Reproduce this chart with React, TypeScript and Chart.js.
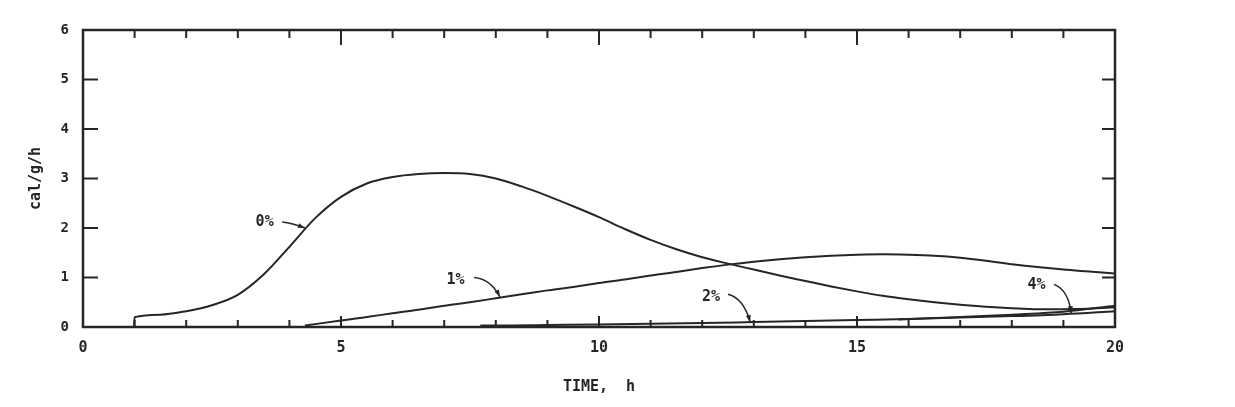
import React, { useEffect, useRef } from "react";
import { Chart, registerables } from "chart.js";

Chart.register(...registerables);

// ---- data ----
const time0 = [0.99, 1, 1.5, 2, 2.5, 3, 3.5, 4, 4.5, 5, 5.5, 6, 6.5, 7, 7.5, 8, 8.5, 9, 9.5, 10, 10.5, 11, 11.5, 12, 12.5, 13, 13.5, 14, 14.5, 15, 15.5, 16, 16.5, 17, 17.5, 18, 18.5, 19, 19.5, 20];
const heat0 = [0, 0.2, 0.25, 0.32, 0.44, 0.65, 1.06, 1.62, 2.2, 2.63, 2.9, 3.03, 3.09, 3.11, 3.09, 3.0, 2.84, 2.65, 2.44, 2.22, 1.98, 1.76, 1.57, 1.41, 1.28, 1.16, 1.04, 0.93, 0.82, 0.72, 0.63, 0.56, 0.5, 0.45, 0.41, 0.38, 0.36, 0.36, 0.37, 0.4];

const time1 = [4.3, 5, 5.5, 6, 6.5, 7, 7.5, 8, 8.5, 9, 9.5, 10, 10.5, 11, 11.5, 12, 12.5, 13, 13.5, 14, 14.5, 15, 15.5, 16, 16.5, 17, 17.5, 18, 18.5, 19, 19.5, 20];
const heat1 = [0.03, 0.13, 0.2, 0.28, 0.35, 0.43, 0.5, 0.58, 0.66, 0.74, 0.81, 0.89, 0.96, 1.04, 1.11, 1.19, 1.26, 1.32, 1.37, 1.41, 1.44, 1.46, 1.47, 1.46, 1.44, 1.4, 1.34, 1.27, 1.21, 1.16, 1.12, 1.08];

const time2 = [7.7, 8.1, 9, 10, 11, 12, 13, 14, 15, 16, 17, 18, 19, 20];
const heat2 = [0.03, 0.03, 0.04, 0.05, 0.065, 0.08, 0.1, 0.12, 0.14, 0.16, 0.19, 0.22, 0.26, 0.32];

const time4 = [15.8, 16.5, 17, 18, 19, 20];
const heat4 = [0.15, 0.18, 0.2, 0.25, 0.31, 0.43];

const xTickValues = [0, 5, 10, 15, 20];
const yTickValues = [0, 1, 2, 3, 4, 5, 6];

const seriesLabels = ["0%", "1%", "2%", "4%"];
// label text centre, arrow start, arrow control, arrow tip (data units)
const labelTextX = [3.52, 7.22, 12.17, 18.48];
const labelTextY = [2.12, 0.95, 0.61, 0.85];
const arrowStartX = [3.86, 7.58, 12.5, 18.82];
const arrowStartY = [2.12, 1.0, 0.66, 0.86];
const arrowCtrlX = [4.05, 7.9, 12.8, 19.1];
const arrowCtrlY = [2.1, 0.97, 0.58, 0.74];
const arrowTipX = [4.3, 8.08, 12.93, 19.15];
const arrowTipY = [2.0, 0.61, 0.1, 0.28];

const INK = "#262626";
const FONT = "'DejaVu Sans Mono', 'Liberation Mono', monospace";

const pts = (xs: number[], ys: number[]) => xs.map((x, i) => ({ x, y: ys[i] }));

const framePlugin = {
  id: "framePlugin",
  afterDraw(chart: any) {
    const { ctx, chartArea } = chart;
    const xs = chart.scales.x;
    const ys = chart.scales.y;
    const { left, right, top, bottom } = chartArea;
    ctx.save();
    ctx.strokeStyle = INK;
    ctx.lineWidth = 2.5;
    ctx.strokeRect(left, top, right - left, bottom - top);
    ctx.lineWidth = 2;
    // x ticks (inward, top and bottom)
    for (let v = 1; v < 20; v++) {
      const px = xs.getPixelForValue(v);
      const major = v % 5 === 0;
      ctx.beginPath();
      ctx.moveTo(px, bottom);
      ctx.lineTo(px, bottom - (major ? 11 : 7));
      ctx.moveTo(px, top);
      ctx.lineTo(px, top + (major ? 15 : 8));
      ctx.stroke();
    }
    // y ticks (inward, left and right)
    for (let v = 1; v < 6; v++) {
      const py = ys.getPixelForValue(v);
      ctx.beginPath();
      ctx.moveTo(left, py);
      ctx.lineTo(left + 15, py);
      ctx.moveTo(right, py);
      ctx.lineTo(right - 13, py);
      ctx.stroke();
    }
    // series labels with curved arrows
    ctx.fillStyle = INK;
    ctx.font = "bold 15px " + FONT;
    ctx.textAlign = "center";
    ctx.textBaseline = "middle";
    seriesLabels.forEach((t, i) => {
      ctx.fillText(t, xs.getPixelForValue(labelTextX[i]), ys.getPixelForValue(labelTextY[i]));
      const sx = xs.getPixelForValue(arrowStartX[i]);
      const sy = ys.getPixelForValue(arrowStartY[i]);
      const cx = xs.getPixelForValue(arrowCtrlX[i]);
      const cy = ys.getPixelForValue(arrowCtrlY[i]);
      const tx = xs.getPixelForValue(arrowTipX[i]);
      const ty = ys.getPixelForValue(arrowTipY[i]);
      ctx.lineWidth = 1.5;
      ctx.beginPath();
      ctx.moveTo(sx, sy);
      ctx.quadraticCurveTo(cx, cy, tx, ty);
      ctx.stroke();
      const ang = Math.atan2(ty - cy, tx - cx);
      const len = 7;
      const w = 2.5;
      ctx.beginPath();
      ctx.moveTo(tx, ty);
      ctx.lineTo(tx - len * Math.cos(ang) + w * Math.sin(ang), ty - len * Math.sin(ang) - w * Math.cos(ang));
      ctx.lineTo(tx - len * Math.cos(ang) - w * Math.sin(ang), ty - len * Math.sin(ang) + w * Math.cos(ang));
      ctx.closePath();
      ctx.fill();
    });
    ctx.restore();
  },
};

export default function App() {
  const ref = useRef<HTMLCanvasElement | null>(null);
  useEffect(() => {
    if (!ref.current) return;
    const line = (data: any) => ({
      data,
      borderColor: INK,
      borderWidth: 2,
      pointRadius: 0,
      cubicInterpolationMode: "monotone",
      fill: false,
    });
    const chart = new Chart(ref.current, {
      type: "line",
      data: {
        datasets: [
          { label: seriesLabels[0], ...line(pts(time0, heat0)) },
          { label: seriesLabels[1], ...line(pts(time1, heat1)) },
          { label: seriesLabels[2], ...line(pts(time2, heat2)) },
          { label: seriesLabels[3], ...line(pts(time4, heat4)) },
        ],
      },
      options: {
        animation: false,
        responsive: false,
        devicePixelRatio: 1,
        layout: { padding: { left: 23, right: 120, top: 30, bottom: 8 } },
        plugins: { legend: { display: false }, tooltip: { enabled: false } },
        scales: {
          x: {
            type: "linear",
            min: 0,
            max: 20,
            afterBuildTicks: (s: any) => {
              s.ticks = xTickValues.map((v) => ({ value: v }));
            },
            afterFit: (s: any) => {
              s.height = 72;
            },
            grid: { display: false, drawTicks: false },
            border: { display: false },
            ticks: { color: INK, padding: 12, font: { family: FONT, size: 15, weight: "bold" }, maxRotation: 0 },
            title: {
              display: true,
              text: "TIME,  h",
              color: INK,
              font: { family: FONT, size: 15, weight: "bold" },
              padding: { top: 4, bottom: 3 },
            },
          },
          y: {
            type: "linear",
            min: 0,
            max: 6,
            afterBuildTicks: (s: any) => {
              s.ticks = yTickValues.map((v) => ({ value: v }));
            },
            afterFit: (s: any) => {
              s.width = 60;
            },
            grid: { display: false, drawTicks: false },
            border: { display: false },
            ticks: { color: INK, padding: 14, font: { family: FONT, size: 14, weight: "bold" } },
            title: {
              display: true,
              text: "cal/g/h",
              color: INK,
              font: { family: FONT, size: 15, weight: "bold" },
              padding: { top: 4, bottom: 4 },
            },
          },
        },
      },
      plugins: [framePlugin],
    } as any);
    return () => chart.destroy();
  }, []);
  return (
    <div style={{ position: "absolute", left: 0, top: 0, width: 1235, height: 407, background: "#fff" }}>
      <canvas ref={ref} width={1235} height={407} />
    </div>
  );
}
